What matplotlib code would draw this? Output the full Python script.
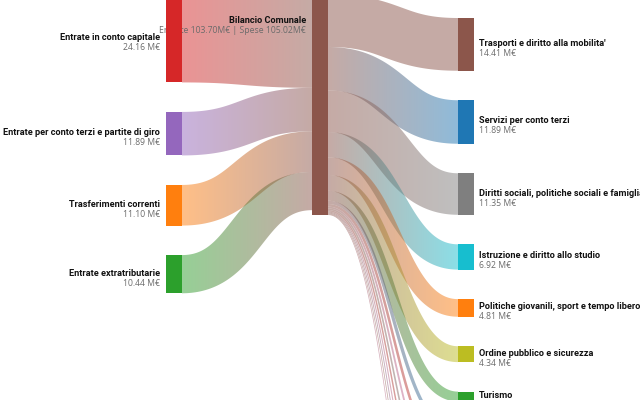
import numpy as np
import matplotlib
matplotlib.use("Agg")
import matplotlib.pyplot as plt
from matplotlib.path import Path
from matplotlib.patches import PathPatch, Rectangle
from matplotlib.colors import to_rgb

plt.rcParams['font.family'] = ['Open Sans', 'DejaVu Sans']

# ---------------- data ----------------
centro_nome = "Bilancio Comunale"
centro_colore = '#8c564b'
entrate_totale = 103.70
spese_totale = 105.02

entrate_nomi = ["Entrate in conto capitale",
                "Entrate per conto terzi e partite di giro",
                "Trasferimenti correnti",
                "Entrate extratributarie"]
entrate_valori = [24.16, 11.89, 11.10, 10.44]
entrate_colori = ['#d62728', '#9467bd', '#ff7f0e', '#2ca02c']

spese_nomi = ["Trasporti e diritto alla mobilita'",
              "Servizi per conto terzi",
              "Diritti sociali, politiche sociali e famiglia",
              "Istruzione e diritto allo studio",
              "Politiche giovanili, sport e tempo libero",
              "Ordine pubblico e sicurezza",
              "Turismo"]
spese_valori = [14.41, 11.89, 11.35, 6.92, 4.81, 4.34, 2.70]
spese_colori = ['#8c564b', '#1f77b4', '#7f7f7f', '#17becf', '#ff7f0e', '#bcbd22', '#2ca02c']

# smaller expense items below the visible area (only their links are seen)
spese_minori_valori = [0.90, 0.70, 0.50, 0.45, 0.40, 0.30, 0.25, 0.20, 0.20]
spese_minori_colori = ['#1f77b4', '#d62728', '#e377c2', '#7f7f7f', '#d62728',
                       '#e377c2', '#9467bd', '#8c564b', '#e377c2']

# items above the visible area (aggregated)
entrate_sopra = entrate_totale - sum(entrate_valori)
spese_sopra = spese_totale - sum(spese_valori) - sum(spese_minori_valori)
entrate_sopra_colore = '#1f77b4'
spese_sopra_colore = '#8c564b'

# ---------------- layout ----------------
K = 3.66          # px per M€
GAP = 29.5
NW = 16
X_L, X_C, X_R = 166, 312, 458
LEFT_TOP = -6
CENTER_BOTTOM = 215
RIGHT_TOP = 18
ALPHA = 0.5
FS_NAME = 6.6
FS_VAL = 6.2
NAME_FONT = ['Roboto', 'DejaVu Sans']

fig = plt.figure(figsize=(6.4, 4.0), dpi=100)
ax = fig.add_axes([0, 0, 1, 1])
ax.set_xlim(0, 640)
ax.set_ylim(400, 0)
ax.set_autoscale_on(False)
ax.axis('off')


def draw_link(x0, y0, x1, y1, w, c0, c1):
    t = np.linspace(0, 1, 120)
    xm = (x0 + x1) / 2
    bx = (1 - t) ** 3 * x0 + 3 * (1 - t) ** 2 * t * xm + 3 * (1 - t) * t ** 2 * xm + t ** 3 * x1
    by = (1 - t) ** 3 * y0 + 3 * (1 - t) ** 2 * t * y0 + 3 * (1 - t) * t ** 2 * y1 + t ** 3 * y1
    dx = 3 * (1 - t) ** 2 * (xm - x0) + 3 * t ** 2 * (x1 - xm)
    dy = 6 * (1 - t) * t * (y1 - y0)
    n = np.hypot(dx, dy)
    nx, ny = -dy / n, dx / n
    ux, uy = bx + nx * w / 2, by + ny * w / 2
    lx, ly = bx - nx * w / 2, by - ny * w / 2
    verts = np.concatenate([np.column_stack([ux, uy]),
                            np.column_stack([lx[::-1], ly[::-1]]),
                            [[ux[0], uy[0]]]])
    codes = [Path.MOVETO] + [Path.LINETO] * (len(verts) - 2) + [Path.CLOSEPOLY]
    patch = PathPatch(Path(verts, codes), transform=ax.transData,
                      facecolor='none', edgecolor='none')
    g = np.linspace(0, 1, 256)[:, None]
    a, b = np.array(to_rgb(c0)), np.array(to_rgb(c1))
    rgb = (1 - g) * a + g * b
    img = np.concatenate([rgb, np.full((256, 1), ALPHA)], axis=1)[None, :, :]
    ymin = min(uy.min(), ly.min()) - 1
    ymax = max(uy.max(), ly.max()) + 1
    im = ax.imshow(img, extent=(x0, x1, ymax, ymin), aspect='auto',
                   interpolation='bilinear', zorder=1)
    im.set_clip_path(patch)


def node(x, y0, v, color):
    ax.add_patch(Rectangle((x, y0), NW, v * K, facecolor=color,
                           edgecolor='none', zorder=3))


def label(x, yc, name, value, ha, z=4):
    ax.text(x, yc - 1, name, ha=ha, va='center', fontsize=FS_NAME,
            family=NAME_FONT, fontweight='bold', color='#111111', zorder=z)
    ax.text(x, yc + 9, value, ha=ha, va='center', fontsize=FS_VAL,
            color='#6b6b6b', zorder=z)


center_top = CENTER_BOTTOM - max(entrate_totale, spese_totale) * K

# ---- left side ----
h = entrate_sopra * K
hid_top = LEFT_TOP - GAP - h
draw_link(X_L + NW, hid_top + h / 2, X_C, center_top + h / 2, h,
          entrate_sopra_colore, centro_colore)
node(X_L, hid_top, entrate_sopra, entrate_sopra_colore)

y = LEFT_TOP
cy = center_top + h
for nm, v, c in zip(entrate_nomi, entrate_valori, entrate_colori):
    hh = v * K
    draw_link(X_L + NW, y + hh / 2, X_C, cy + hh / 2, hh, c, centro_colore)
    node(X_L, y, v, c)
    label(X_L - 6, y + hh / 2, nm, f"{v:.2f} M€", 'right')
    y += hh + GAP
    cy += hh

# ---- right side ----
h = spese_sopra * K
hid_top = RIGHT_TOP - GAP - h
draw_link(X_C + NW, center_top + h / 2, X_R, hid_top + h / 2, h,
          centro_colore, spese_sopra_colore)
node(X_R, hid_top, spese_sopra, spese_sopra_colore)

y = RIGHT_TOP
cy = center_top + h
for nm, v, c in zip(spese_nomi, spese_valori, spese_colori):
    hh = v * K
    draw_link(X_C + NW, cy + hh / 2, X_R, y + hh / 2, hh, centro_colore, c)
    node(X_R, y, v, c)
    label(X_R + NW + 5, y + hh / 2, nm, f"{v:.2f} M€", 'left')
    y += hh + GAP
    cy += hh
for v, c in zip(spese_minori_valori, spese_minori_colori):
    hh = v * K
    draw_link(X_C + NW, cy + hh / 2, X_R, y + hh / 2, hh, centro_colore, c)
    node(X_R, y, v, c)
    y += hh + GAP
    cy += hh

# ---- center ----
node(X_C, center_top, max(entrate_totale, spese_totale), centro_colore)
label(X_C - 6, (center_top + CENTER_BOTTOM) / 2 - 1, centro_nome,
      f"Entrate {entrate_totale:.2f}M€ | Spese {spese_totale:.2f}M€", 'right', z=2)

fig.savefig("out.png", dpi=100, facecolor='white')
